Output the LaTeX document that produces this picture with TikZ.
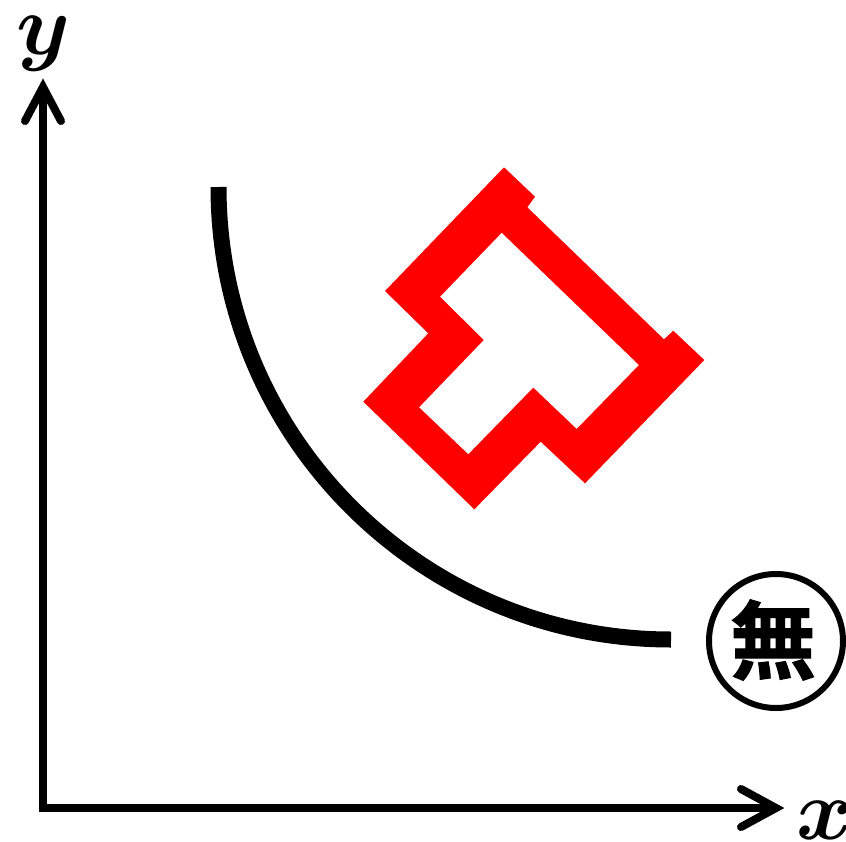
\documentclass[tikz,border=0pt]{standalone}
\usepackage{amsmath}
\usepackage{fontspec}
\newfontfamily\cjk{Noto Sans CJK JP}[UprightFont={* Bold}, FakeBold=1.2]
\begin{document}
\begin{tikzpicture}[x=1pt,y=-1pt,
  axisline/.style={line width=8pt, line join=miter},
  arrowvee/.style={line width=8pt, line cap=round, line join=miter},
  curveline/.style={line width=16pt},
  lbl/.style={inner sep=0pt, scale=8.6},
  redshape/.style={fill=red, even odd rule}]
\useasboundingbox (0,0) rectangle (846,841);
% axes
\coordinate (O) at (43,808);
\coordinate (Ytip) at (43,87);
\coordinate (Xtip) at (776,808);
\coordinate (Yl) at (25,121);
\coordinate (Yr) at (61,121);
\coordinate (Xu) at (741,789);
\coordinate (Xd) at (741,827);
\draw[axisline] (Ytip) -- (O) -- (Xtip);
\draw[arrowvee] (Yl) -- (Ytip) -- (Yr);
\draw[arrowvee] (Xu) -- (Xtip) -- (Xd);
\node[lbl] (ylab) at (43,44) {$\boldsymbol{y}$};
\node[lbl] (xlab) at (825,820) {$\boldsymbol{x}$};
% curve
\coordinate (cs) at (218.5,187);
\draw[curveline] (cs) arc[start angle=180, end angle=90, radius=452.5];
% red shape
\fill[redshape]
  (504,167.3) -- (535,196.7) -- (527.3,207.3) -- (664,339.3) -- (673.3,330.7)
  -- (704.3,360) -- (585,483.3) -- (540.7,441.7) -- (474.3,509.3) -- (363.3,401.7)
  -- (428.3,333.3) -- (385,291) -- cycle
  (501.7,232.7) -- (639,365) -- (576.7,429) -- (533.3,387.7) -- (468.3,454.3)
  -- (419,407.3) -- (483.7,340) -- (440,296.7) -- cycle;
% circled mark
\node[draw, circle, line width=6pt, minimum size=134pt, inner sep=0pt] (ring) at (776,641) {};
\node[inner sep=0pt] (mu) at (773,640) {\fontsize{86}{86}\selectfont\cjk 無};
\end{tikzpicture}
\end{document}
